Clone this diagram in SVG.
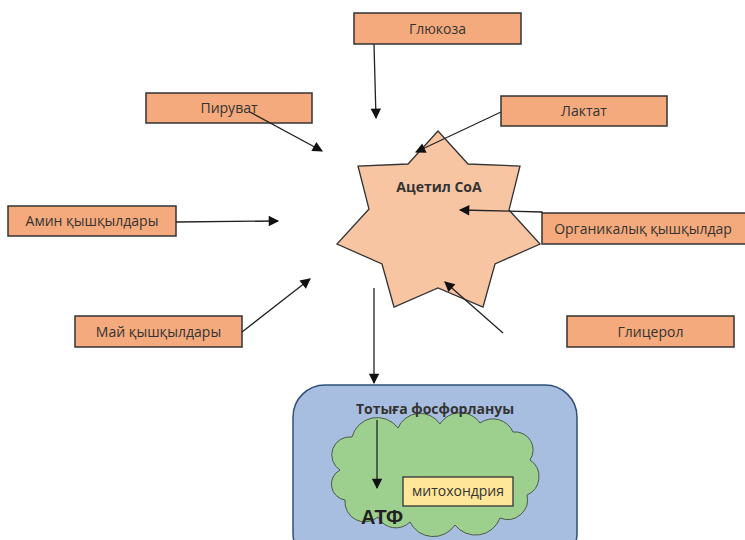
<svg xmlns="http://www.w3.org/2000/svg" width="745" height="540" viewBox="0 0 745 540">
<style>
.box{fill:#f4aa7c;stroke:#333;stroke-width:1.5}
.lbl{font-family:"Open Sans","Liberation Sans",sans-serif;font-size:14px;fill:#333;text-anchor:middle}
.b{font-weight:bold}
.con{stroke:#222;stroke-width:1.3;fill:none;marker-end:url(#ah)}
</style>
<defs>
<marker id="ah" viewBox="0 0 10 10" refX="9" refY="5" markerWidth="8" markerHeight="8" markerUnits="userSpaceOnUse" orient="auto" overflow="visible">
<path d="M0,0 L10,5 L0,10 z" fill="#111" transform="scale(1.3) translate(-2,-1.2)"/>
</marker>
</defs>
<rect width="745" height="540" fill="#fff"/>
<g id="star">
<polygon points="438,131 468,164 520,166 509,210 540,244 495,264 483,307 438,288 394,307 382,264 337,244 369,209 358,166 408,164" fill="#f8c5a3" stroke="#333" stroke-width="1.3"/>
<text class="lbl b" x="439" y="192">Ацетил СоА</text>
</g>
<g id="glucose"><rect class="box" x="354" y="13" width="167" height="31"/><text class="lbl" x="437.5" y="34">Глюкоза</text></g>
<g id="pyruvate"><rect class="box" x="146" y="93" width="166" height="30"/><text class="lbl" x="229" y="113">Пируват</text></g>
<g id="lactate"><rect class="box" x="501" y="96" width="166" height="30"/><text class="lbl" x="584" y="116">Лактат</text></g>
<g id="amino"><rect class="box" x="8" y="206" width="168" height="30"/><text class="lbl" x="92" y="226">Амин қышқылдары</text></g>
<g id="organic"><rect class="box" x="542" y="213" width="205" height="31"/><text class="lbl" x="643" y="234">Органикалық қышқылдар</text></g>
<g id="fatty"><rect class="box" x="75" y="316" width="167" height="31"/><text class="lbl" x="158.5" y="337">Май қышқылдары</text></g>
<g id="glycerol"><rect class="box" x="567" y="316" width="167" height="31"/><text class="lbl" x="650.5" y="337">Глицерол</text></g>
<g id="oxphos">
<rect x="293" y="385" width="284" height="180" rx="32" ry="32" fill="#a8bee0" stroke="#2f4f7a" stroke-width="1.5"/>
<path d="M340,470 A18,18 0 0 1 352,437 A26,26 0 0 1 398,428 A24,24 0 0 1 440,424 A24,24 0 0 1 480,423 A22,22 0 0 1 513,432 A18,18 0 0 1 530,460 A20,20 0 0 1 527,495 A20,20 0 0 1 500,518 A26,26 0 0 1 455,525 A26,26 0 0 1 410,522 A20,20 0 0 1 378,517 A20,20 0 0 1 345,500 A16,16 0 0 1 340,470 z" fill="#9dd08e" stroke="#4a5a4a" stroke-width="1"/>
<text class="lbl b" x="435" y="414" font-size="14">Тотыға фосфорлануы</text>
<text x="361" y="524" font-family="'Liberation Sans',Arial,sans-serif" font-size="20" font-weight="bold" fill="#222">АТФ</text>
</g>
<g id="mito"><rect x="403" y="477" width="110" height="29" fill="#ffe699" stroke="#333" stroke-width="1.3"/><text class="lbl" x="458" y="496" font-size="12.5">митохондрия</text></g>
<g id="connectors">
<line class="con" x1="374" y1="44" x2="376" y2="118"/>
<line class="con" x1="250" y1="112" x2="322" y2="151"/>
<line class="con" x1="501" y1="112" x2="416" y2="152"/>
<line class="con" x1="176" y1="222" x2="278" y2="221"/>
<polyline class="con" points="542,213 542,212 460,210"/>
<line class="con" x1="242" y1="332" x2="310" y2="279"/>
<line class="con" x1="503" y1="333" x2="445" y2="282"/>
<line class="con" x1="374" y1="288" x2="374" y2="383"/>
<line class="con" x1="377" y1="420" x2="377" y2="488"/>
</g>
</svg>
